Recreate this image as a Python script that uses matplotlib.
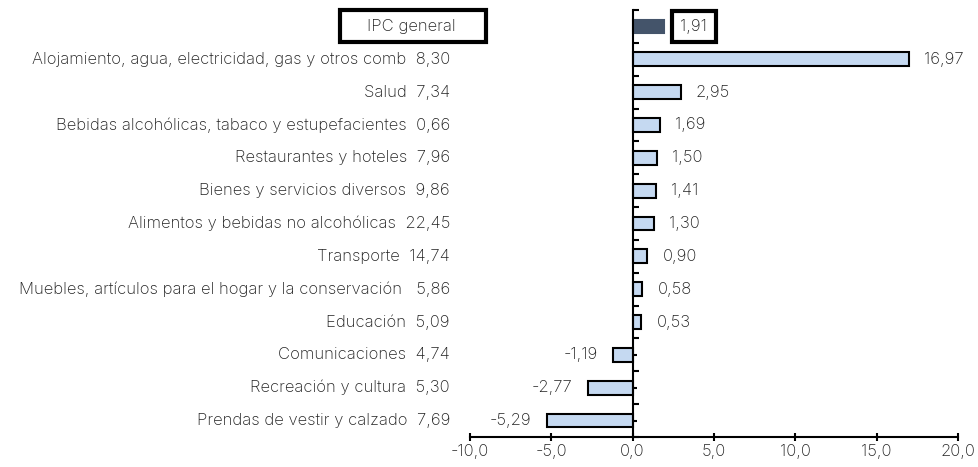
import matplotlib
matplotlib.use("Agg")
import matplotlib.pyplot as plt
from matplotlib.patches import Rectangle
import numpy as np

CATS = ["IPC general",
        "Alojamiento, agua, electricidad, gas y otros comb",
        "Salud",
        "Bebidas alcohólicas, tabaco y estupefacientes",
        "Restaurantes y hoteles",
        "Bienes y servicios diversos",
        "Alimentos y bebidas no alcohólicas",
        "Transporte",
        "Muebles, artículos para el hogar y la conservación ",
        "Educación",
        "Comunicaciones",
        "Recreación y cultura",
        "Prendas de vestir y calzado"]
WEIGHTS = [None, 8.30, 7.34, 0.66, 7.96, 9.86, 22.45, 14.74, 5.86, 5.09, 4.74, 5.30, 7.69]
VALUES = [1.91, 16.97, 2.95, 1.69, 1.50, 1.41, 1.30, 0.90, 0.58, 0.53, -1.19, -2.77, -5.29]
XTICKS = [-10, -5, 0, 5, 10, 15, 20]

BAR_C, IPC_C, TXT_C = "#C5D9F1", "#44546A", "#222222"

plt.rcParams.update({"font.family": ["Inter", "DejaVu Sans"], "font.size": 12,
                     "font.weight": "light"})

def fmt(v, nd):
    return f"{v:.{nd}f}".replace(".", ",")

fig = plt.figure(figsize=(9.79, 4.67), dpi=100)
ax = fig.add_axes([470/979, 1 - 437/467, 488/979, 427/467])

y = np.arange(len(CATS))
colors = [IPC_C] + [BAR_C] * (len(CATS) - 1)
edges = [IPC_C] + ["black"] * (len(CATS) - 1)
ax.barh(y, VALUES, height=0.42, color=colors, edgecolor=edges, linewidth=1.5, zorder=2)

ax.set_xlim(-10, 20)
ax.set_ylim(12.45, -0.48)
ax.spines[["top", "right"]].set_visible(False)
ax.spines["left"].set_position(("data", 0))
for s in ("left", "bottom"):
    ax.spines[s].set_linewidth(1.5)

ax.set_xticks(XTICKS)
ax.set_xticklabels([fmt(t, 1) for t in XTICKS], color=TXT_C)
ax.tick_params(axis="x", direction="inout", length=6, width=1.5, pad=2)
ax.set_yticks(np.arange(-0.5, len(CATS), 1.0))
ax.set_yticks(y, minor=True)
ax.set_yticklabels([])
ax.tick_params(axis="y", which="major", direction="in", length=4, width=1.5)
ax.tick_params(axis="y", which="minor", direction="in", length=3, width=1.5)

# category names with weights, right aligned left of the plot area
for i, (c, w) in enumerate(zip(CATS, WEIGHTS)):
    lab = c if w is None else f"{c}  {fmt(w, 2)}"
    dx = -0.03 if w is None else -0.041
    ax.text(dx, i, lab, transform=ax.get_yaxis_transform(), ha="right", va="center",
            color=TXT_C, clip_on=False)

# box around IPC general label
ax.add_patch(Rectangle((-0.266, 0.925), 0.299, 0.075, transform=ax.transAxes,
                       fill=False, edgecolor="black", linewidth=3, clip_on=False, zorder=5))

# value labels
for i, v in enumerate(VALUES):
    off = 11 if v >= 0 else -11
    kw = {}
    if i == 0:
        kw["bbox"] = dict(boxstyle="square,pad=0.5", fc="white", ec="black", lw=3)
        off = 12
    ax.annotate(fmt(v, 2), (v, i), xytext=(off, 0), textcoords="offset points",
                ha="left" if v >= 0 else "right", va="center", color=TXT_C, **kw)

fig.savefig("out.png", dpi=100)
